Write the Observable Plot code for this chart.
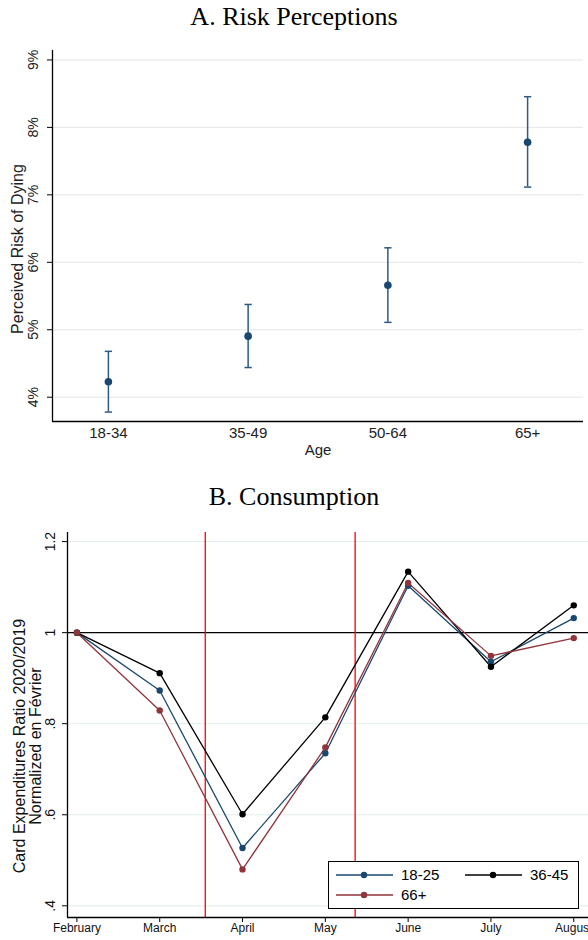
<!DOCTYPE html>
<html><head><meta charset="utf-8">
<script src="https://cdn.jsdelivr.net/npm/d3@7"></script>
<script src="https://cdn.jsdelivr.net/npm/@observablehq/plot@0.6"></script>
<style>
html,body{margin:0;padding:0;background:#fff;overflow:hidden;}
#root{position:relative;width:588px;height:940px;font-family:"Liberation Sans",Arial,sans-serif;overflow:hidden;}
.title{position:absolute;left:0;width:588px;text-align:center;font-family:"Liberation Serif","Times New Roman",serif;font-size:26px;line-height:30px;color:#000;}
#panelA{position:absolute;left:0;top:30px;}
#panelB{position:absolute;left:0;top:510px;}
#legend{position:absolute;left:328px;top:861px;width:249px;height:46px;border:1px solid #000;background:#fff;}
.li{position:absolute;height:20px;}
.li span{position:absolute;left:66px;top:0;font-size:15px;line-height:20px;color:#000;white-space:nowrap;}
</style></head><body>
<div id="root">
<div class="title" style="top:2px">A. Risk Perceptions</div>
<div id="panelA"></div>
<div class="title" style="top:482px">B. Consumption</div>
<div id="panelB"></div>
<div id="legend"></div>
</div>
<script>
// ---- Panel A data
const ageGroups = ["18-34", "35-49", "50-64", "65+"];
const riskMean = [4.23, 4.905, 5.66, 7.78];
const riskLow  = [3.78, 4.44, 5.11, 7.115];
const riskHigh = [4.68, 5.375, 6.215, 8.455];
const riskTicks = [4, 5, 6, 7, 8, 9];

// ---- Panel B data
const months = ["February", "March", "April", "May", "June", "July", "August"];
const series18_25 = [1.0, 0.873, 0.527, 0.735, 1.103, 0.936, 1.032];
const series36_45 = [1.0, 0.911, 0.601, 0.814, 1.134, 0.925, 1.060];
const series66plus = [1.0, 0.829, 0.480, 0.748, 1.109, 0.949, 0.988];
const seriesNames = ["18-25", "36-45", "66+"];
const eventLines = [1.55, 3.36]; // months after February
const consTicks = [0.4, 0.6, 0.8, 1, 1.2];
const consTickLabels = [".4", ".6", ".8", "1", "1.2"];

const FONT = '"Liberation Sans", Arial, sans-serif';
const navy = "#1a476f";
const seriesColors = ["#1a476f", "#000000", "#90353b"];

// ---- Panel A
const riskData = ageGroups.map((g, i) => ({k: i + 1, g, m: riskMean[i], lo: riskLow[i], hi: riskHigh[i]}));
const xA = [0.6, 4.4], yA = [3.64, 9.14];
const cap = 0.026;
const plotA = Plot.plot({
  width: 588, height: 430, marginLeft: 52, marginRight: 5, marginTop: 20, marginBottom: 39,
  style: {fontFamily: FONT, fontSize: "15px", background: "white", color: "black"},
  x: {type: "linear", domain: xA},
  y: {type: "linear", domain: yA},
  marks: [
    Plot.gridY(riskTicks, {stroke: "#e6e6e6", strokeOpacity: 1, strokeWidth: 1}),
    Plot.axisY(riskTicks, {tickSize: 5, tickFormat: () => "", label: null, stroke: "#000"}),
    Plot.text(riskTicks, {y: d => d, text: d => d + "%", frameAnchor: "left", dx: -19, rotate: -90,
      fontSize: 14, textAnchor: "middle", lineAnchor: "middle", fill: "#222"}),
    Plot.text(["Perceived Risk of Dying"], {text: d => d, frameAnchor: "left", dx: -35, dy: 13, rotate: -90,
      fontSize: 16, textAnchor: "middle", lineAnchor: "middle", fill: "#222"}),
    Plot.axisX([1, 2, 3, 4], {tickSize: 0, tickPadding: 6, tickFormat: d => ageGroups[d - 1], fontSize: 15, label: null, fill: "#222"}),
    Plot.text(["Age"], {text: d => d, frameAnchor: "bottom", dy: 29, fontSize: 15, lineAnchor: "middle", fill: "#222"}),
    Plot.ruleX([xA[0]], {stroke: "#000", strokeWidth: 1.3}),
    Plot.ruleY([yA[0]], {stroke: "#000", strokeWidth: 1.3}),
    Plot.ruleX(riskData, {x: "k", y1: "lo", y2: "hi", stroke: "#2c5a85", strokeWidth: 1.5}),
    Plot.link(riskData, {x1: d => d.k - cap, x2: d => d.k + cap, y1: "lo", y2: "lo", stroke: "#2c5a85", strokeWidth: 1.5}),
    Plot.link(riskData, {x1: d => d.k - cap, x2: d => d.k + cap, y1: "hi", y2: "hi", stroke: "#2c5a85", strokeWidth: 1.5}),
    Plot.dot(riskData, {x: "k", y: "m", r: 3.8, fill: navy, stroke: "none"})
  ]
});
document.getElementById("panelA").appendChild(plotA);

// ---- Panel B
const allSeries = [series18_25, series36_45, series66plus];
const consData = [];
seriesNames.forEach((s, si) => months.forEach((m, i) => consData.push({s, i, v: allSeries[si][i]})));
const xB = [-0.1136, 6.178], yB = [0.3743, 1.22];
const plotB = Plot.plot({
  width: 588, height: 430, marginLeft: 67, marginRight: 0, marginTop: 22, marginBottom: 23,
  style: {fontFamily: FONT, fontSize: "12px", background: "white", color: "black"},
  x: {type: "linear", domain: xB},
  y: {type: "linear", domain: yB},
  color: {domain: seriesNames, range: seriesColors},
  marks: [
    Plot.gridY(consTicks.filter(d => d !== 1), {stroke: "#e2ecec", strokeOpacity: 1, strokeWidth: 1}),
    Plot.ruleY([1], {stroke: "#000", strokeWidth: 1.2}),
    Plot.ruleX(eventLines, {stroke: "#ff0000", strokeWidth: 1.3}),
    Plot.axisY(consTicks, {tickSize: 5, tickFormat: () => "", label: null, stroke: "#000"}),
    Plot.text(consTicks, {y: d => d, text: (d, i) => consTickLabels[i], frameAnchor: "left", dx: -17, rotate: -90,
      fontSize: 14, textAnchor: "middle", lineAnchor: "middle", fill: "#111"}),
    Plot.text(["Card Expenditures Ratio 2020/2019"], {text: d => d, frameAnchor: "left", dx: -47.5, dy: 21, rotate: -90,
      fontSize: 16, textAnchor: "middle", lineAnchor: "middle", fill: "#111"}),
    Plot.text(["Normalized en Février"], {text: d => d, frameAnchor: "left", dx: -32, dy: 21, rotate: -90,
      fontSize: 16, textAnchor: "middle", lineAnchor: "middle", fill: "#111"}),
    Plot.axisX(months.map((m, i) => i), {tickSize: 5, tickPadding: 1, tickFormat: i => months[i], fontSize: 12, label: null, stroke: "#000", fill: "#111"}),
    Plot.ruleX([xB[0]], {stroke: "#000", strokeWidth: 1.3}),
    Plot.ruleY([yB[0]], {stroke: "#000", strokeWidth: 1.3}),
    Plot.line(consData, {x: "i", y: "v", z: "s", stroke: "s", strokeWidth: 1.3}),
    Plot.dot(consData, {x: "i", y: "v", fill: "s", r: 3.2, stroke: "none"})
  ]
});
document.getElementById("panelB").appendChild(plotB);

// ---- Legend
const legend = document.getElementById("legend");
seriesNames.forEach((s, k) => {
  const col = k % 2, row = Math.floor(k / 2);
  const div = document.createElement("div");
  div.className = "li";
  div.style.left = (6 + col * 129) + "px";
  div.style.top = (3 + row * 20) + "px";
  div.innerHTML = `<svg width="60" height="20" style="position:absolute;left:0;top:0">
    <line x1="1" x2="58" y1="10" y2="10" stroke="${seriesColors[k]}" stroke-width="1.3"/>
    <circle cx="29" cy="10" r="3.2" fill="${seriesColors[k]}"/></svg><span>${s}</span>`;
  legend.appendChild(div);
});
</script>
</body></html>
